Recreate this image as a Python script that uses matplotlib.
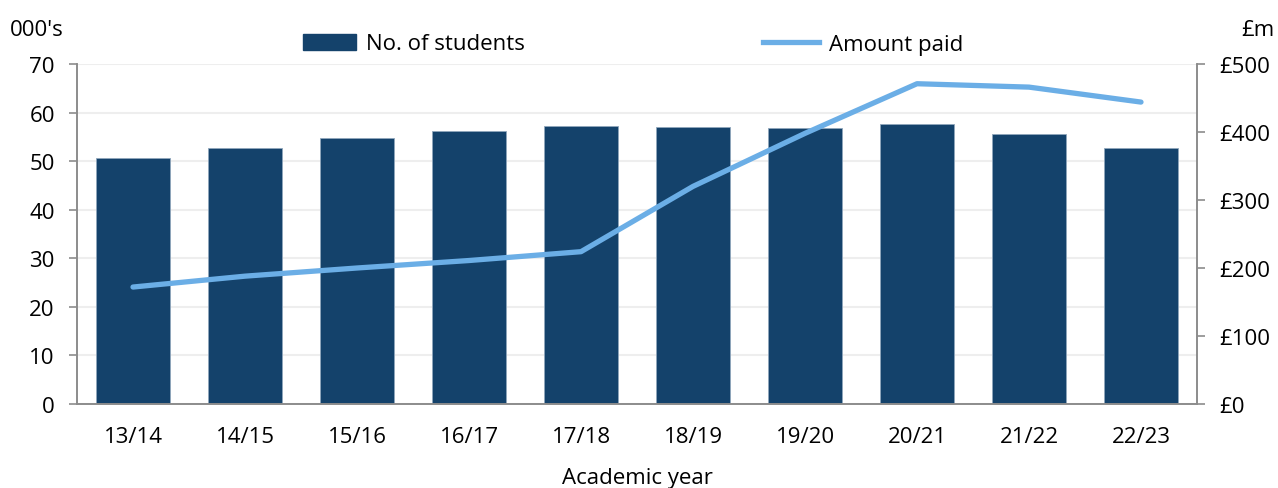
import matplotlib
matplotlib.use("Agg")
import matplotlib.pyplot as plt
from matplotlib.lines import Line2D
from matplotlib.patches import Patch

years = ["13/14", "14/15", "15/16", "16/17", "17/18",
         "18/19", "19/20", "20/21", "21/22", "22/23"]
students_000s = [50.6, 52.8, 54.8, 56.3, 57.2, 57.0, 56.8, 57.7, 55.5, 52.8]
amount_paid_m = [172, 188, 200, 211, 224, 320, 398, 471, 466, 444]
left_ticks = [0, 10, 20, 30, 40, 50, 60, 70]
right_ticks = [0, 100, 200, 300, 400, 500]

BAR = "#14426B"
LINE = "#6BAEE6"
SPINE = "#8C8C8C"
GRID = "#EEEEEE"
FS = 16

plt.rcParams["font.family"] = ["Open Sans", "DejaVu Sans"]

fig = plt.figure(figsize=(12.78, 4.89), dpi=100)
ax = fig.add_axes([77 / 1278, 84 / 489, 1120 / 1278, 340 / 489])

x = range(len(years))
ax.bar(x, students_000s, width=0.66, color=BAR, edgecolor="#8FA6BC",
       linewidth=0.6, zorder=2)
ax.set_xlim(-0.5, len(years) - 0.5)
ax.set_ylim(0, 70)
ax.set_yticks(left_ticks)
ax.set_xticks(list(x))
ax.set_xticklabels(years)
ax.grid(axis="y", color=GRID, linewidth=1.5, zorder=0)
ax.set_axisbelow(True)
ax.tick_params(axis="y", length=6, width=1.2, color=SPINE, pad=10, labelsize=FS)
ax.tick_params(axis="x", length=0, pad=16, labelsize=FS)
ax.set_xlabel("Academic year", fontsize=FS, labelpad=14)

ax2 = ax.twinx()
ax2.plot(list(x), amount_paid_m, color=LINE, linewidth=3.8,
         solid_capstyle="round", solid_joinstyle="round", zorder=3)
ax2.set_ylim(0, 500)
ax2.set_yticks(right_ticks)
ax2.set_yticklabels([f"£{v}" for v in right_ticks])
ax2.tick_params(axis="y", length=6, width=1.2, color=SPINE, pad=10, labelsize=FS)

for a in (ax, ax2):
    a.spines["top"].set_visible(False)
    for s in ("left", "right", "bottom"):
        a.spines[s].set_color(SPINE)
        a.spines[s].set_linewidth(1.2)

fig.text(10 / 1278, 1 - 30 / 489, "000's", fontsize=FS, ha="left", va="center")
fig.text(1275 / 1278, 1 - 30 / 489, "£m", fontsize=FS, ha="right", va="center")

leg1 = fig.legend(handles=[Patch(facecolor=BAR, edgecolor=BAR, label="No. of students")],
                  loc="center left", bbox_to_anchor=(303 / 1278, 1 - 45 / 489),
                  frameon=False, fontsize=FS, borderpad=0, borderaxespad=0,
                  handlelength=2.4, handleheight=0.7, handletextpad=0.45)
leg2 = fig.legend(handles=[Line2D([], [], color=LINE, linewidth=3.8, label="Amount paid")],
                  loc="center left", bbox_to_anchor=(763 / 1278, 1 - 45 / 489),
                  frameon=False, fontsize=FS, borderpad=0, borderaxespad=0,
                  handlelength=2.5, handletextpad=0.45)

fig.savefig("out.png", dpi=100)
